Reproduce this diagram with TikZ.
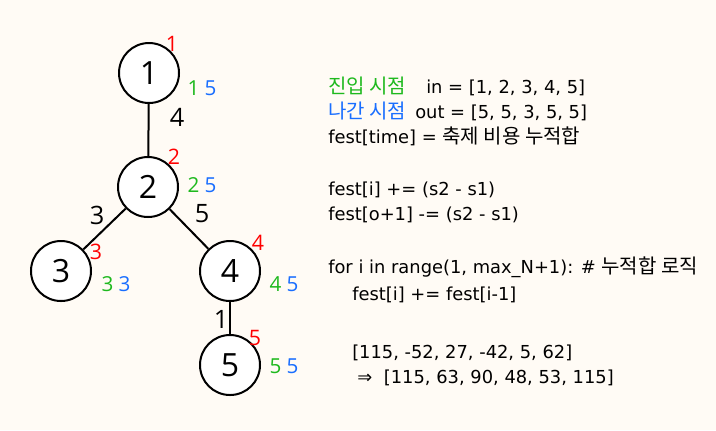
\documentclass[tikz,border=0pt]{standalone}
\usepackage{fontspec}
\setmainfont{Open Sans}
\newfontfamily\codefont{DejaVu Sans}
\newfontfamily\krfont{Noto Sans CJK KR}
\newcommand{\hangul}[1]{{\krfont\fontsize{15}{15}\selectfont #1}}
\definecolor{bgcream}{RGB}{255,251,245}
\definecolor{inGreen}{RGB}{30,185,30}
\definecolor{outBlue}{RGB}{25,110,255}

\begin{document}
\begin{tikzpicture}[
    x=0.75pt, y=-0.75pt,
    vertex/.style={
        circle,
        draw,
        line width=1.5pt,
        fill=white,
        minimum size=45pt,
        inner sep=0pt,
        font=\fontsize{24}{24}\selectfont,
    },
    edge/.style={
        line width=1.5pt,
    },
    weight/.style={
        font=\fontsize{19}{19}\selectfont,
    },
    order/.style={
        text=red,
        font=\fontsize{16}{16}\selectfont,
    },
    inout/.style={
        font=\fontsize{15.5}{16}\selectfont,
    },
    code/.style={
        anchor=base west,
        inner sep=0pt,
        font=\codefont\fontsize{13.4}{14}\selectfont,
    }
]
    % Background
    \fill[bgcream] (0,0) rectangle (716,430);
    \useasboundingbox (0,0) rectangle (716,430);

    % Tree
    \node[vertex] (v1) at (149,73) {1};
    \node[vertex] (v2) at (148,187) {2};
    \node[vertex] (v3) at (61,271) {3};
    \node[vertex] (v4) at (230,271) {4};
    \node[vertex] (v5) at (230,365) {5};

    \draw[edge] (v1) -- (v2);
    \draw[edge] (v2) -- (v3);
    \draw[edge] (v2) -- (v4);
    \draw[edge, line width=2.2pt] (v4) -- (v5);

    % Edge weights
    \node[weight] (w12) at (177,117) {4};
    \node[weight] (w23) at (97,215) {3};
    \node[weight] (w24) at (202,214) {5};
    \node[weight] (w45) at (221,319) {1};

    % Visit order
    \node[order] (o1) at (172,44) {1};
    \node[order] (o2) at (174,157) {2};
    \node[order] (o3) at (96,252) {3};
    \node[order] (o4) at (258,243) {4};
    \node[order] (o5) at (255,338) {5};

    % In / out times
    \node[inout] (t1) at (202,88) {\textcolor{inGreen}{1} \textcolor{outBlue}{5}};
    \node[inout] (t2) at (202,185) {\textcolor{inGreen}{2} \textcolor{outBlue}{5}};
    \node[inout] (t3) at (116,284) {\textcolor{inGreen}{3} \textcolor{outBlue}{3}};
    \node[inout] (t4) at (284,284) {\textcolor{inGreen}{4} \textcolor{outBlue}{5}};
    \node[inout] (t5) at (284,366) {\textcolor{inGreen}{5} \textcolor{outBlue}{5}};

    % Notes
    \node[code, text=inGreen] (inname) at (328,93) {\hangul{진입 시점}};
    \node[code] (inlist) at (426,93) {in = [1, 2, 3, 4, 5]};
    \node[code, text=outBlue] (outname) at (328,118) {\hangul{나간 시점}};
    \node[code] (outlist) at (415,118) {out = [5, 5, 3, 5, 5]};
    \node[code] (fest) at (328,143) {fest[time] = \hangul{축제 비용 누적합}};

    \node[code] (add) at (328,195) {fest[i] += (s2 - s1)};
    \node[code] (sub) at (328,220) {fest[o+1] -= (s2 - s1)};

    \node[code] (loop) at (328,273) {for i in range(1, max\_N+1): \# \hangul{누적합 로직}};
    \node[code] (body) at (352,300) {fest[i] += fest[i-1]};

    \node[code] (before) at (352,358) {[115, -52, 27, -42, 5, 62]};
    \node[code] (after) at (357,383) {⇒\hspace{4.5pt} [115, 63, 90, 48, 53, 115]};
\end{tikzpicture}
\end{document}
